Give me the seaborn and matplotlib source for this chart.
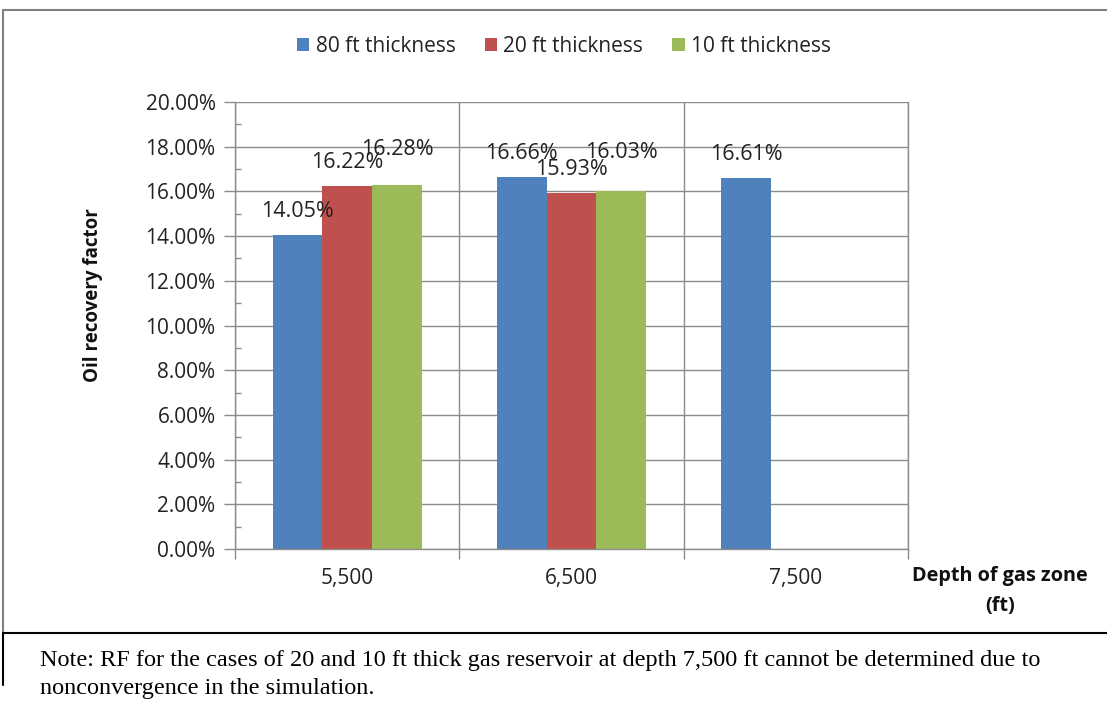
import numpy as np
import pandas as pd
import matplotlib
matplotlib.use("Agg")
import matplotlib.pyplot as plt
from matplotlib.lines import Line2D
from matplotlib.ticker import FuncFormatter, MultipleLocator, FixedLocator
import seaborn as sns

# Oil recovery factor (%) per depth of gas zone and gas-zone thickness
depths = ["5,500", "6,500", "7,500"]
thicknesses = ["80 ft thickness", "20 ft thickness", "10 ft thickness"]
rf_80ft = [14.05, 16.66, 16.61]
rf_20ft = [16.22, 15.93, np.nan]
rf_10ft = [16.28, 16.03, np.nan]

colors = ["#4F81BD", "#C0504D", "#9BBB59"]
# extra vertical lift (pixels) for a few crowded value labels
label_lift = {("10 ft thickness", "5,500"): 12, ("10 ft thickness", "6,500"): 15}

df = pd.DataFrame({
    "depth": depths * 3,
    "thickness": np.repeat(thicknesses, 3),
    "rf": rf_80ft + rf_20ft + rf_10ft,
})

sns.set_theme(style="white")
plt.rcParams["font.family"] = ["Open Sans", "DejaVu Sans"]

W, H = 1107, 713
fig = plt.figure(figsize=(W / 100, H / 100), dpi=100)
ax = fig.add_axes([235 / W, 1 - 549 / H, (908 - 235) / W, (549 - 102) / H])

sns.barplot(data=df.dropna(), x="depth", y="rf", hue="thickness",
            order=depths, hue_order=thicknesses, palette=colors,
            width=0.665, saturation=1, linewidth=0, ax=ax,
            errorbar=None, legend=True)

ax.set_ylim(0, 20)
ax.set_xlim(-0.5, 2.5)
ax.yaxis.set_major_locator(MultipleLocator(2))
ax.yaxis.set_minor_locator(MultipleLocator(1))
ax.yaxis.set_major_formatter(FuncFormatter(lambda v, p: f"{v:.2f}%"))
ax.xaxis.set_minor_locator(FixedLocator([-0.5, 0.5, 1.5, 2.5]))

grid_c = "#8C8C8C"
ax.grid(axis="y", which="major", color=grid_c, linewidth=1)
ax.grid(axis="x", which="minor", color=grid_c, linewidth=1)
ax.set_axisbelow(True)
ax.spines["top"].set_visible(False)
for s in ["left", "bottom", "right"]:
    ax.spines[s].set_color(grid_c)
    ax.spines[s].set_linewidth(1)

ax.tick_params(axis="y", which="major", left=True, length=8, width=1, color=grid_c,
               labelsize=15, labelcolor="#222222", pad=6)
ax.tick_params(axis="y", which="minor", left=True, length=4, width=1, color=grid_c,
               direction="in")
ax.tick_params(axis="x", which="major", bottom=False, length=0, labelsize=15,
               labelcolor="#222222", pad=14)
ax.tick_params(axis="x", which="minor", bottom=True, length=7, width=1, color=grid_c)

ax.set_xlabel("")
ax.set_ylabel("")
fig.text(93 / W, 1 - 295 / H, "Oil recovery factor", rotation=90, ha="center",
         va="center", fontsize=13.5, fontweight="bold", color="#111111")

# value labels above each bar
for cont, name in zip(ax.containers, thicknesses):
    for bar, dep in zip(cont, depths):
        h = bar.get_height()
        if np.isnan(h):
            continue
        lift = label_lift.get((name, dep), 0)
        ax.annotate(f"{h:.2f}%", (bar.get_x() + bar.get_width() / 2, h),
                    xytext=(0, 13 + lift), textcoords="offset pixels",
                    ha="center", va="bottom", fontsize=15.5, color="#222222")

leg = ax.legend(loc="center", bbox_to_anchor=(564 / W, 1 - 46 / H),
                bbox_transform=fig.transFigure, ncol=3, frameon=False,
                fontsize=15, handlelength=0.6, handleheight=0.6,
                handletextpad=0.3, columnspacing=1.4)
for t in leg.get_texts():
    t.set_color("#222222")

fig.text(1000 / W, 1 - 591 / H, "Depth of gas zone\n(ft)", ha="center", va="center",
         fontsize=14.3, fontweight="bold", color="#111111", linespacing=1.6)

# chart frame and note box
frame_c = "#7F7F7F"
fig.lines.append(Line2D([3 / W, 1], [1 - 10 / H, 1 - 10 / H],
                        transform=fig.transFigure, color=frame_c, linewidth=1.5))
fig.lines.append(Line2D([3 / W, 3 / W], [1 - 10 / H, 1 - 633 / H],
                        transform=fig.transFigure, color=frame_c, linewidth=1.5))
fig.lines.append(Line2D([3 / W, 1], [1 - 633 / H, 1 - 633 / H],
                        transform=fig.transFigure, color="black", linewidth=1.5))
fig.lines.append(Line2D([3 / W, 3 / W], [1 - 633 / H, 1 - 685 / H],
                        transform=fig.transFigure, color="black", linewidth=1.5))

note = ("Note: RF for the cases of 20 and 10 ft thick gas reservoir at depth 7,500 ft "
        "cannot be determined due to\nnonconvergence in the simulation.")
fig.text(40 / W, 1 - 650 / H, note, ha="left", va="top",
         family=["Liberation Serif", "DejaVu Serif"], fontsize=17.5,
         color="black", linespacing=1.45)

fig.savefig("out.png", dpi=100)
